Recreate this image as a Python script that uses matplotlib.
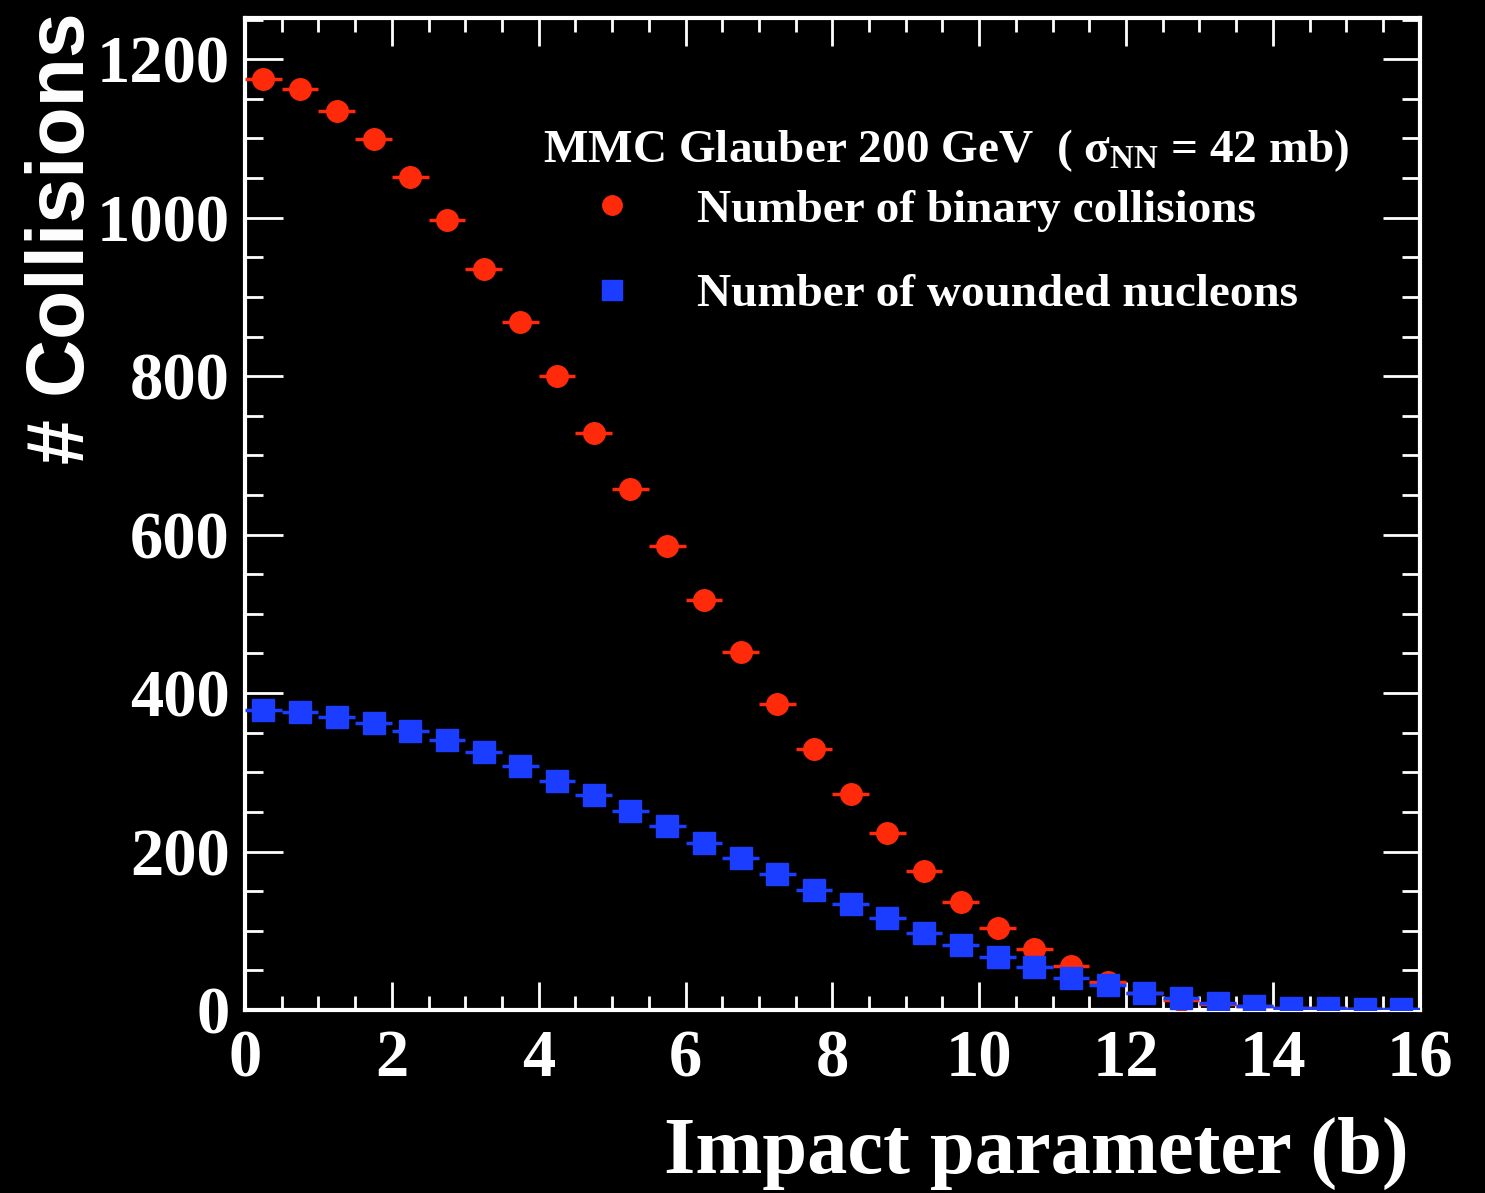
"""MMC Glauber: collisions vs impact parameter, ROOT-style on black."""

import matplotlib

matplotlib.use("Agg")
import numpy as np
from matplotlib import pyplot as plt
from matplotlib.lines import Line2D
from matplotlib.ticker import MultipleLocator

# bin centres of impact parameter (fm), bin width 0.5
b_centers = np.arange(0.25, 16.0, 0.5)
n_binary = [1175, 1163, 1135, 1099, 1051, 997, 935, 868, 800, 728, 657, 586,
            518, 452, 386, 329, 272, 223, 176, 136, 104, 77, 55, 35, 22, 13,
            8, 5, 3, 2, 1, 0.5]
n_wounded = [379, 376, 370, 362, 352, 341, 326, 308, 289, 271, 251, 232,
             211, 192, 172, 151, 134, 116, 97, 82, 67, 54, 40, 32, 21, 15,
             9, 5, 3, 2, 1, 1]
bin_half_width = 0.25

RED = "#ff2a0a"
BLUE = "#1a3dff"
SERIF = ["Liberation Serif", "DejaVu Serif"]

plt.rcParams["mathtext.fontset"] = "custom"
plt.rcParams["mathtext.rm"] = "Liberation Serif:bold"
plt.rcParams["mathtext.it"] = "Liberation Serif:bold"

fig = plt.figure(figsize=(14.85, 11.93), dpi=100, facecolor="black")
ax = fig.add_axes([0.165, 0.1534, 0.791, 0.8315], facecolor="black")

ax.errorbar(b_centers, n_binary, xerr=bin_half_width, fmt="o", color=RED,
            ms=15.5, elinewidth=2.5, capsize=0, zorder=3)
ax.errorbar(b_centers, n_wounded, xerr=bin_half_width, fmt="s", color=BLUE,
            ms=15.5, elinewidth=2.5, capsize=0, zorder=4)

ax.set_xlim(0, 16)
ax.set_ylim(0, 1252)

# frame and ticks on all sides, pointing in
for sp in ax.spines.values():
    sp.set_color("white")
    sp.set_linewidth(3)
ax.xaxis.set_major_locator(MultipleLocator(2))
ax.xaxis.set_minor_locator(MultipleLocator(0.5))
ax.yaxis.set_major_locator(MultipleLocator(200))
ax.yaxis.set_minor_locator(MultipleLocator(50))
ax.tick_params(which="both", direction="in", top=True, right=True,
               color="white", width=2, labelcolor="white")
ax.tick_params(axis="x", which="major", length=20, pad=14)
ax.tick_params(axis="x", which="minor", length=10)
ax.tick_params(axis="y", which="major", length=27, pad=11)
ax.tick_params(axis="y", which="minor", length=13)
for lab in ax.get_xticklabels() + ax.get_yticklabels():
    lab.set_family(SERIF)
    lab.set_fontweight("bold")
    lab.set_fontsize(48)

ax.set_xlabel("Impact parameter (b)", loc="right", color="white",
              family=SERIF, fontweight="bold", fontsize=58)
ax.xaxis.set_label_coords(0.991, -0.108)
ax.set_ylabel("# Collisions", loc="top", color="white",
              family=["Liberation Sans", "DejaVu Sans"], fontweight="bold",
              fontsize=58)
ax.yaxis.set_label_coords(-0.123, 1.006)

ax.text(0.597, 0.866, r"MMC Glauber 200 GeV  ( $\mathrm{\sigma_{NN}}$ = 42 mb)",
        transform=ax.transAxes, ha="center", va="center", color="white",
        family=SERIF, fontweight="bold", fontsize=34)

handles = [
    Line2D([], [], marker="o", ls="none", color=RED, ms=14),
    Line2D([], [], marker="s", ls="none", color=BLUE, ms=14),
]
leg = ax.legend(handles, ["Number of binary collisions",
                          "Number of wounded nucleons"],
                loc="upper left", bbox_to_anchor=(0.292, 0.828),
                frameon=False, borderpad=0, borderaxespad=0,
                handlelength=1.0, handletextpad=1.31, labelspacing=0.88,
                prop={"family": SERIF, "weight": "bold", "size": 34})
for t in leg.get_texts():
    t.set_color("white")

fig.savefig("out.png", dpi=100, facecolor="black")
